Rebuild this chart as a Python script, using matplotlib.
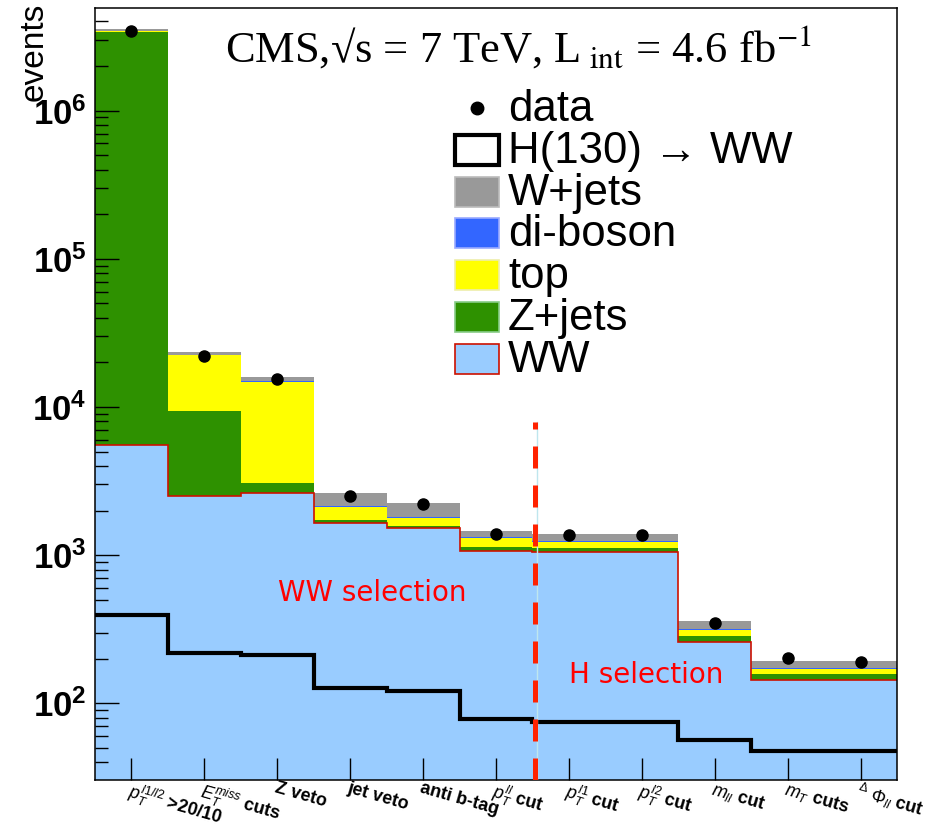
import numpy as np
import matplotlib
matplotlib.use('Agg')
import matplotlib.pyplot as plt
from matplotlib.patches import Rectangle
from matplotlib.lines import Line2D
from matplotlib.ticker import LogLocator, NullFormatter

plt.rcParams['font.family'] = ['Liberation Sans', 'DejaVu Sans']
plt.rcParams['mathtext.fontset'] = 'custom'
plt.rcParams['mathtext.rm'] = 'Liberation Sans'
plt.rcParams['mathtext.it'] = 'Liberation Sans:italic'
plt.rcParams['mathtext.bf'] = 'Liberation Sans:bold'

# selection steps
cuts = [r'$p_T^{l1/l2}$ >20/10', r'$E_T^{miss}$ cuts', 'Z veto', 'jet veto',
        'anti b-tag', r'$p_T^{ll}$ cut', r'$p_T^{l1}$ cut', r'$p_T^{l2}$ cut',
        r'$m_{ll}$ cut', r'$m_T$ cuts', r'$^{\Delta}\ \Phi_{ll}$ cut']

# stacked backgrounds (bottom to top)
ww      = [5530, 2520, 2610, 1640, 1530, 1070, 1050, 1050, 258, 143, 143]
zjets   = [3.404e6, 6900, 440, 90, 50, 60, 60, 60, 26, 15, 15]
top     = [1.0e4, 13000, 11750, 390, 190, 170, 120, 120, 28, 12, 12]
diboson = [1000, 60, 60, 25, 30, 20, 25, 25, 6, 3, 4]
wjets   = [1.3e5, 1000, 1000, 465, 440, 130, 125, 125, 39, 21, 20]

data = [3.45e6, 2.2e4, 1.54e4, 2520, 2200, 1400, 1370, 1370, 347, 201, 191]
h130 = [395, 219, 213, 127, 121, 78, 74.5, 74.5, 57, 47.4, 47.4]

ytick_vals = [1e2, 1e3, 1e4, 1e5, 1e6]
ytick_labels = [r'$\mathbf{10^{2}}$', r'$\mathbf{10^{3}}$', r'$\mathbf{10^{4}}$',
                r'$\mathbf{10^{5}}$', r'$\mathbf{10^{6}}$']

W, H = 938, 833
def fx(x):
    return x / W
def fy(y):
    return 1 - y / H

fig = plt.figure(figsize=(W / 100, H / 100), dpi=100)
ax = fig.add_axes([fx(95), fy(780), 802 / W, 772 / H])

n = len(cuts)
edges = np.arange(n + 1)
centers = edges[:-1] + 0.5
ymin, ymax = 30.4, 4.92e6

comps = [(ww, '#99ccff', 'WW'), (zjets, '#2e9100', 'Z+jets'), (top, '#ffff00', 'top'),
         (diboson, '#3366ff', 'di-boson'), (wjets, '#999999', 'W+jets')]
bottom = np.full(n, ymin * 0.5)
for vals, col, lab in comps:
    upper = (bottom if lab != 'WW' else 0) + np.array(vals, dtype=float)
    ax.stairs(upper, edges, baseline=bottom, fill=True, color=col, lw=0, zorder=1)
    if lab == 'WW':
        ax.stairs(upper, edges, baseline=None, color='#cc1100', lw=1.2, zorder=2)
    bottom = upper

ax.stairs(h130, edges, baseline=None, color='black', lw=3, zorder=3)
ax.plot(centers, data, 'o', color='black', ms=8, zorder=5)

# separation between WW and H selection
ax.plot([6.06, 6.06], [ymin, 7.9e3], color='#bfe6ee', lw=1, zorder=3)
ax.plot([6.03, 6.03], [ymin, 7.9e3], color='#ff2200', lw=3.6, dashes=(4.4, 3.4), zorder=4)
ax.text(3.8, 555, 'WW selection', color='red', fontsize=20, family='DejaVu Sans',
        ha='center', va='center')
ax.text(7.56, 155, 'H selection', color='red', fontsize=20, family='DejaVu Sans',
        ha='center', va='center')

ax.set_yscale('log')
ax.set_xlim(0, n)
ax.set_ylim(ymin, ymax)
ax.set_yticks(ytick_vals)
ax.set_yticklabels(ytick_labels, fontsize=25)
ax.yaxis.set_minor_locator(LogLocator(base=10, subs=np.arange(2, 10)))
ax.yaxis.set_minor_formatter(NullFormatter())
ax.set_xticks(centers)
ax.set_xticklabels(cuts, fontsize=13, fontweight='bold', rotation=-16,
                   ha='left', va='top', rotation_mode='anchor')
ax.tick_params(axis='y', which='major', direction='in', length=17, width=1, pad=6)
ax.tick_params(axis='y', which='minor', direction='in', length=9, width=1)
ax.tick_params(axis='x', which='major', direction='in', length=16, width=1, pad=0)
ax.tick_params(top=False, right=False, which='both')
for s in ax.spines.values():
    s.set_linewidth(1.1)

fig.text(fx(34), fy(3), 'events', rotation=90, fontsize=24, ha='center', va='top')
fig.text(fx(225), fy(62), r'CMS,√s = 7 TeV, L$_{\mathrm{\ int}}$ = 4.6 fb$^{\mathrm{-1}}$',
         family='Liberation Serif', math_fontfamily='stix', fontsize=32, va='baseline')

# legend drawn by hand, ROOT style
leg_rows = [('data', None, None), ('H(130) → WW', 'white', 'black'),
            ('W+jets', '#999999', '#bbbbbb'), ('di-boson', '#3366ff', '#99aaff'),
            ('top', '#ffff00', '#eeeeaa'), ('Z+jets', '#2e9100', '#88cc88'),
            ('WW', '#99ccff', '#cc1100')]
for i, (lab, fc, ec) in enumerate(leg_rows):
    yc = 108 + 41.8 * i
    if fc is None:
        fig.add_artist(Line2D([fx(477)], [fy(yc)], marker='o', color='black', ms=9,
                              transform=fig.transFigure))
    else:
        lw = 3 if lab.startswith('H') else 1.2
        fig.add_artist(Rectangle((fx(455), fy(yc + 15)), 44 / W, 30 / H, facecolor=fc,
                                 edgecolor=ec, lw=lw, transform=fig.transFigure))
    fig.text(fx(508), fy(yc + 13), lab, fontsize=31.5, va='baseline', ha='left')

fig.savefig('out.png', dpi=100)
